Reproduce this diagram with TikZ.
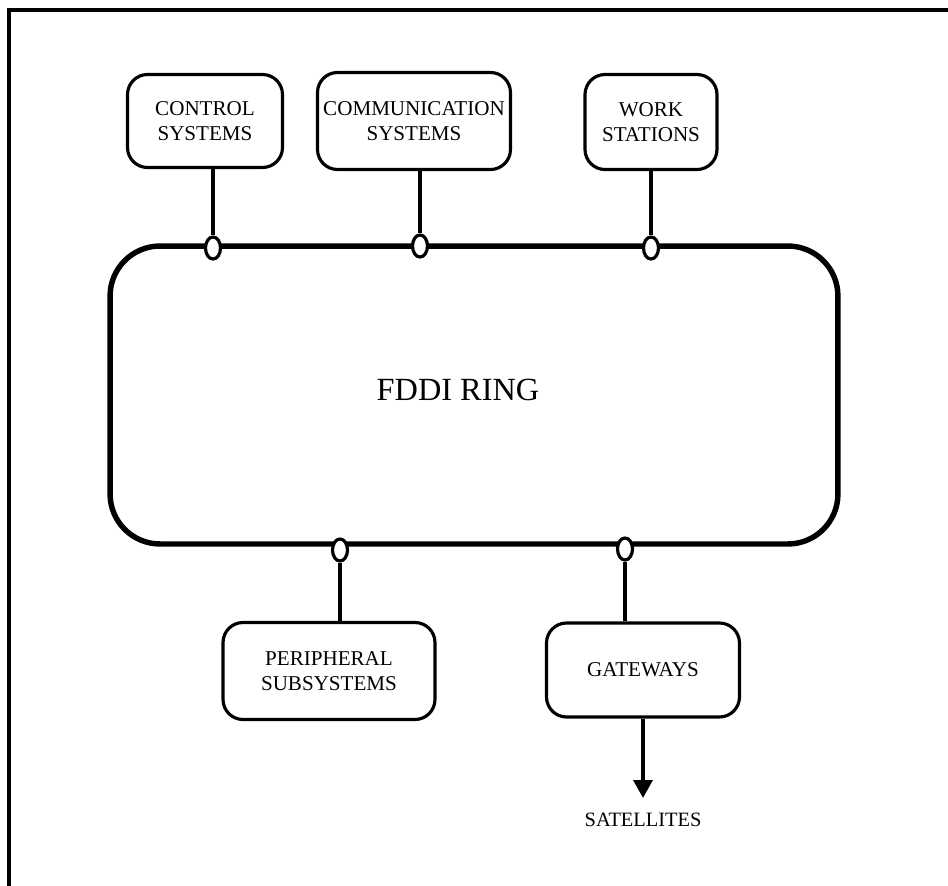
\documentclass[tikz,border=0pt]{standalone}
\usepackage{fontspec}
\setmainfont{Liberation Serif}
\usepackage{tikz}
\usetikzlibrary{shapes, positioning, arrows.meta}

\begin{document}
\begin{tikzpicture}[x=0.02cm, y=-0.02cm,
    sysbox/.style={rectangle, 
      draw, 
      line width=1.8pt, 
      rounded corners=0.4cm, 
      align=center, 
      inner sep=0pt, 
      font=\fontsize{12}{14.2}\selectfont},
    tap/.style={ellipse, 
      draw, 
      fill=white, 
      line width=1.8pt, 
      inner sep=0pt, 
      minimum width=0.3cm, 
      minimum height=0.44cm},
    link/.style={line width=2pt}]

  \useasboundingbox (0,0) rectangle (948,886);

  % FRAME

  \draw[line width=2.3pt] (9,886) -- (9,10) -- (948,10);

  % RING

  \node [rectangle, 
    draw, 
    line width=3.1pt, 
    rounded corners=1cm, 
    minimum width=14.56cm, 
    minimum height=5.96cm] (ring) at (474,395) {};

  \node [font=\fontsize{18.4}{20}\selectfont] (ringtitle) at (458,390) {FDDI RING};

  % SYSTEMS

  \node [sysbox, minimum width=3.1cm, minimum height=1.86cm] 
    (control) at (205,121) {CONTROL\\SYSTEMS};

  \node [sysbox, minimum width=3.86cm, minimum height=1.94cm] 
    (comm) at (414,121) {COMMUNICATION\\SYSTEMS};

  \node [sysbox, minimum width=2.64cm, minimum height=1.9cm] 
    (work) at (651,122) {WORK\\STATIONS};

  \node [sysbox, minimum width=4.24cm, minimum height=1.94cm] 
    (periph) at (329,671) {PERIPHERAL\\SUBSYSTEMS};

  \node [sysbox, minimum width=3.86cm, minimum height=1.88cm] 
    (gateways) at (643,670) {GATEWAYS};

  % TAPS

  \node [tap] (tapcontrol) at (213,248) {};
  \node [tap] (tapcomm) at (420,246) {};
  \node [tap] (tapwork) at (651,248) {};
  \node [tap] (tapperiph) at (340,550) {};
  \node [tap] (tapgateways) at (625,549) {};

  \draw[link] (control.south -| tapcontrol) -- (tapcontrol.north);
  \draw[link] (comm.south -| tapcomm) -- (tapcomm.north);
  \draw[link] (work.south -| tapwork) -- (tapwork.north);
  \draw[link] (tapperiph.south) -- (periph.north -| tapperiph);
  \draw[link] (tapgateways.south) -- (gateways.north -| tapgateways);

  % SATELLITES

  \coordinate (satend) at (643,798);
  \draw[link, -{Triangle[length=0.36cm, width=0.38cm]}] (gateways.south) -- (satend);

  \node [below=0.18cm of satend, 
    font=\fontsize{11.6}{13}\selectfont] (satellites) {SATELLITES};

\end{tikzpicture}
\end{document}
